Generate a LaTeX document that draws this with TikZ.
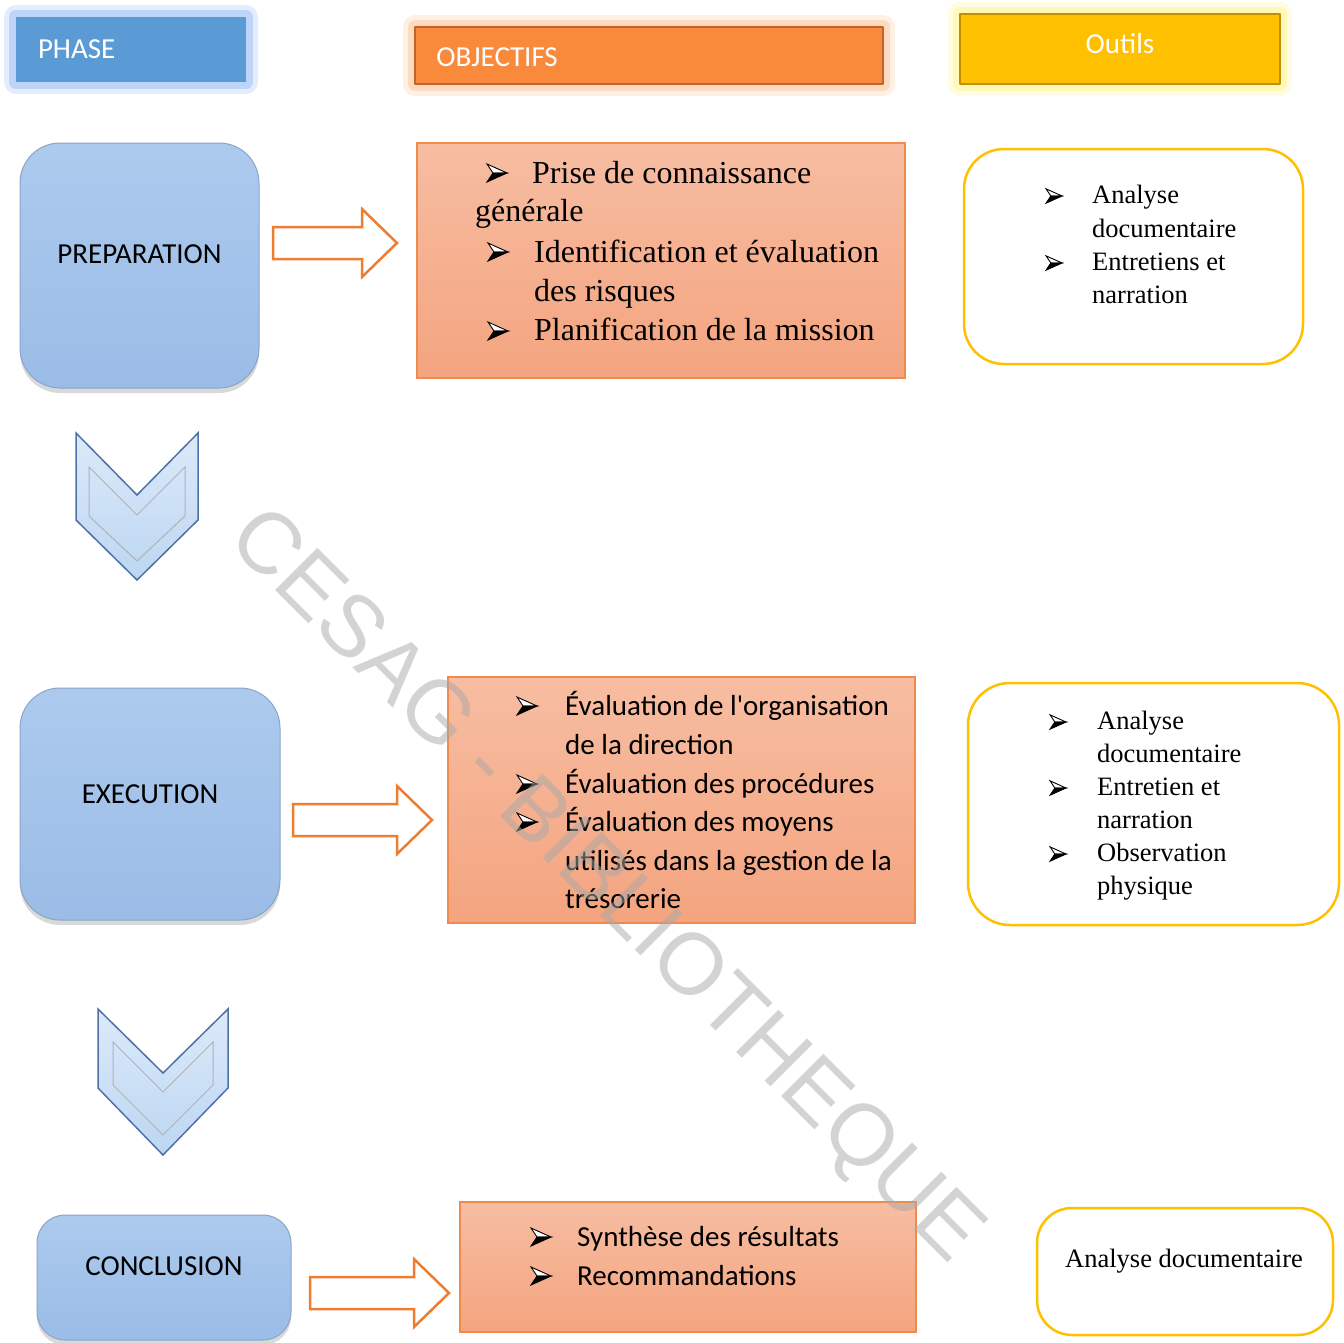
\documentclass[tikz,border=0pt]{standalone}
\usepackage{fontspec}
\setmainfont{Liberation Serif}
\newfontfamily\calibri{Carlito}
\newfontfamily\arialfont{Liberation Sans}
\usetikzlibrary{shadows}

\definecolor{phaseblue}{HTML}{5B9BD5}
\definecolor{glowblue}{HTML}{A6C3F6}
\definecolor{objorange}{HTML}{FA8A3B}
\definecolor{objborder}{HTML}{C0652A}
\definecolor{gloworange}{HTML}{FCCDA8}
\definecolor{toolyellow}{HTML}{FFC000}
\definecolor{toolborder}{HTML}{BF9000}
\definecolor{glowyellow}{HTML}{FFF59C}
\definecolor{boxtop}{HTML}{ADCAEE}
\definecolor{boxbottom}{HTML}{9ABCE6}
\definecolor{boxedge}{HTML}{8BA5C6}
\definecolor{salmontop}{HTML}{F7BDA2}
\definecolor{salmonbottom}{HTML}{F4A47F}
\definecolor{salmonedge}{HTML}{F08B4E}
\definecolor{arroworange}{HTML}{ED7D31}
\definecolor{chevtop}{HTML}{DCEAFA}
\definecolor{chevbottom}{HTML}{BCD6F2}
\definecolor{chevedge}{HTML}{4F71A6}
\definecolor{wmgray}{HTML}{A8A8A8}

\newcommand{\fatarrow}[2]{%
  \draw[hollowarr] (#1) ++(0,-16) -- ++({#2-35},0) -- ++(0,-18)
    -- ++(35,34) -- ++(-35,34) -- ++(0,-18) -- ++({35-#2},0) -- cycle;}

\tikzset{
  header/.style={inner sep=0pt, font=\calibri\fontsize{29}{35}\selectfont, text=white},
  headbox/.style={inner sep=0pt, line join=round,
    preaction={draw=#1, line width=24pt, opacity=0.3},
    preaction={draw=#1, line width=14pt, opacity=0.6}},
  phasebox/.style={inner sep=0pt, top color=boxtop, bottom color=boxbottom,
    draw=boxedge, line width=1pt,
    drop shadow={shadow xshift=0pt, shadow yshift=-5pt, opacity=0.3}},
  phaselabel/.style={inner sep=0pt, font=\calibri\fontsize{29}{35}\selectfont},
  objbox/.style={inner sep=0pt, top color=salmontop, bottom color=salmonbottom,
    draw=salmonedge, line width=1.2pt},
  toolbox/.style={inner sep=0pt, draw=toolyellow, fill=white, line width=2.5pt},
  objtxt/.style={inner sep=0pt, anchor=base west, font=\fontsize{32}{40}\selectfont},
  objsans/.style={inner sep=0pt, anchor=base west, font=\calibri\fontsize{29}{36}\selectfont},
  tooltxt/.style={inner sep=0pt, anchor=base west, font=\fontsize{26.5}{33}\selectfont},
  hollowarr/.style={draw=arroworange, fill=white, line width=2.5pt, line join=miter},
  chevron/.style={top color=chevtop, bottom color=chevbottom, draw=chevedge,
    line width=1.5pt, line join=miter},
  bevel/.style={draw=black!30, line width=1pt},
  watermark/.style={inner sep=0pt, text=wmgray, text opacity=0.5,
    font=\arialfont\fontsize{87}{87}\selectfont, rotate=-45},
  puce/.pic={
    \filldraw[fill=white, draw=black, line width=0.9pt, line join=miter] (0,-9) -- (20,0) -- (6,0) -- cycle;
    \filldraw[fill=black, draw=black, line width=0.9pt, line join=miter] (0,9) -- (20,0) -- (6,0) -- cycle;
  }
}

\begin{document}
\begin{tikzpicture}[x=1pt, y=-1pt]
  \useasboundingbox (0,0) rectangle (1344,1342);

  % en-tetes
  \node[headbox=glowblue, fill=phaseblue, minimum width=230, minimum height=65] (hphase) at (131,49.5) {};
  \node[header, anchor=west] (lphase) at ([xshift=22pt]hphase.west) {PHASE};
  \node[headbox=gloworange, fill=objorange, draw=objborder, line width=1.5pt,
    minimum width=468, minimum height=57] (hobj) at (649,55.5) {};
  \node[header, anchor=west] (lobj) at ([xshift=22pt, yshift=-1.5pt]hobj.west) {OBJECTIFS};
  \node[headbox=glowyellow, fill=toolyellow, draw=toolborder, line width=2pt,
    minimum width=320, minimum height=70] (htool) at (1120,49) {};
  \node[header] (ltool) at ([yshift=5pt]htool.center) {Outils};

  % phases
  \node[phasebox, rounded corners=40pt, minimum width=239, minimum height=245] (prep) at (139.5,265.5) {};
  \node[phaselabel] (lprep) at ([yshift=11pt]prep.center) {PREPARATION};
  \node[phasebox, rounded corners=40pt, minimum width=260, minimum height=232] (exec) at (150,804) {};
  \node[phaselabel] (lexec) at ([yshift=10pt]exec.center) {EXECUTION};
  \node[phasebox, rounded corners=28pt, minimum width=254, minimum height=125] (concl) at (164,1277.5) {};
  \node[phaselabel] (lconcl) at ([yshift=11pt]concl.center) {CONCLUSION};

  % chevrons
  \draw[chevron] (76,433) -- (76,520) -- (137,580) -- (198,520) -- (198,433) -- (137,495) -- cycle;
  \draw[bevel] (89,467) -- (89,516) -- (137,561) -- (185,516) -- (185,467) -- (137,515) -- cycle;
  \draw[chevron] (98,1009) -- (98,1088) -- (163,1155) -- (228,1088) -- (228,1009) -- (163,1073) -- cycle;
  \draw[bevel] (113,1042) -- (113,1085) -- (163,1135) -- (213,1085) -- (213,1042) -- (163,1092) -- cycle;

  % fleches
  \coordinate (a1) at (273,243);
  \coordinate (a2) at (293,820);
  \coordinate (a3) at (310,1293);
  \fatarrow{a1}{124}
  \fatarrow{a2}{139}
  \fatarrow{a3}{139}

  % objectifs
  \node[objbox, minimum width=488, minimum height=235] (obj1) at (661,260.5) {};
  \pic at (487,173) {puce};
  \node[objtxt] (o1a) at (532,183) {Prise de connaissance};
  \node[objtxt] (o1b) at (475,221) {générale};
  \pic at (488,252) {puce};
  \node[objtxt] (o1c) at (534,262) {Identification et évaluation};
  \node[objtxt] (o1d) at (534,301) {des risques};
  \pic at (488,331) {puce};
  \node[objtxt] (o1e) at (534,340) {Planification de la mission};

  \node[objbox, minimum width=467, minimum height=246] (obj2) at (681.5,800) {};
  \pic at (517,706) {puce};
  \node[objsans] (o2a) at (565,715) {Évaluation de l\textquotesingle organisation};
  \node[objsans] (o2b) at (565,754) {de la direction};
  \pic at (517,784) {puce};
  \node[objsans] (o2c) at (565,793) {Évaluation des procédures};
  \pic at (517,822) {puce};
  \node[objsans] (o2d) at (565,831) {Évaluation des moyens};
  \node[objsans] (o2e) at (565,870) {utilisés dans la gestion de la};
  \node[objsans] (o2f) at (565,908) {trésorerie};

  \node[objbox, minimum width=456, minimum height=130] (obj3) at (688,1267) {};
  \pic at (531,1237) {puce};
  \node[objsans] (o3a) at (577,1246) {Synthèse des résultats};
  \pic at (531,1276) {puce};
  \node[objsans] (o3b) at (577,1285) {Recommandations};

  % outils
  \node[toolbox, rounded corners=40pt, minimum width=339, minimum height=215] (tool1) at (1133.5,256.5) {};
  \pic[scale=0.8] at (1046,196) {puce};
  \node[tooltxt] (t1a) at (1092,203) {Analyse};
  \node[tooltxt] (t1b) at (1092,237) {documentaire};
  \pic[scale=0.8] at (1046,263) {puce};
  \node[tooltxt] (t1c) at (1092,270) {Entretiens et};
  \node[tooltxt] (t1d) at (1092,303) {narration};

  \node[toolbox, rounded corners=42pt, minimum width=371, minimum height=242] (tool2) at (1153.5,804) {};
  \pic[scale=0.8] at (1050,722) {puce};
  \node[tooltxt] (t2a) at (1097,729) {Analyse};
  \node[tooltxt] (t2b) at (1097,762) {documentaire};
  \pic[scale=0.8] at (1050,788) {puce};
  \node[tooltxt] (t2c) at (1097,795) {Entretien et};
  \node[tooltxt] (t2d) at (1097,828) {narration};
  \pic[scale=0.8] at (1050,854) {puce};
  \node[tooltxt] (t2e) at (1097,861) {Observation};
  \node[tooltxt] (t2f) at (1097,894) {physique};

  \node[toolbox, rounded corners=35pt, minimum width=296, minimum height=127] (tool3) at (1185,1271.5) {};
  \node[tooltxt, anchor=base] (t3a) at (1184,1267) {Analyse documentaire};

  % filigrane
  \node[watermark] (wm) at (604,888) {CESAG - BIBLIOTHEQUE};
\end{tikzpicture}
\end{document}
